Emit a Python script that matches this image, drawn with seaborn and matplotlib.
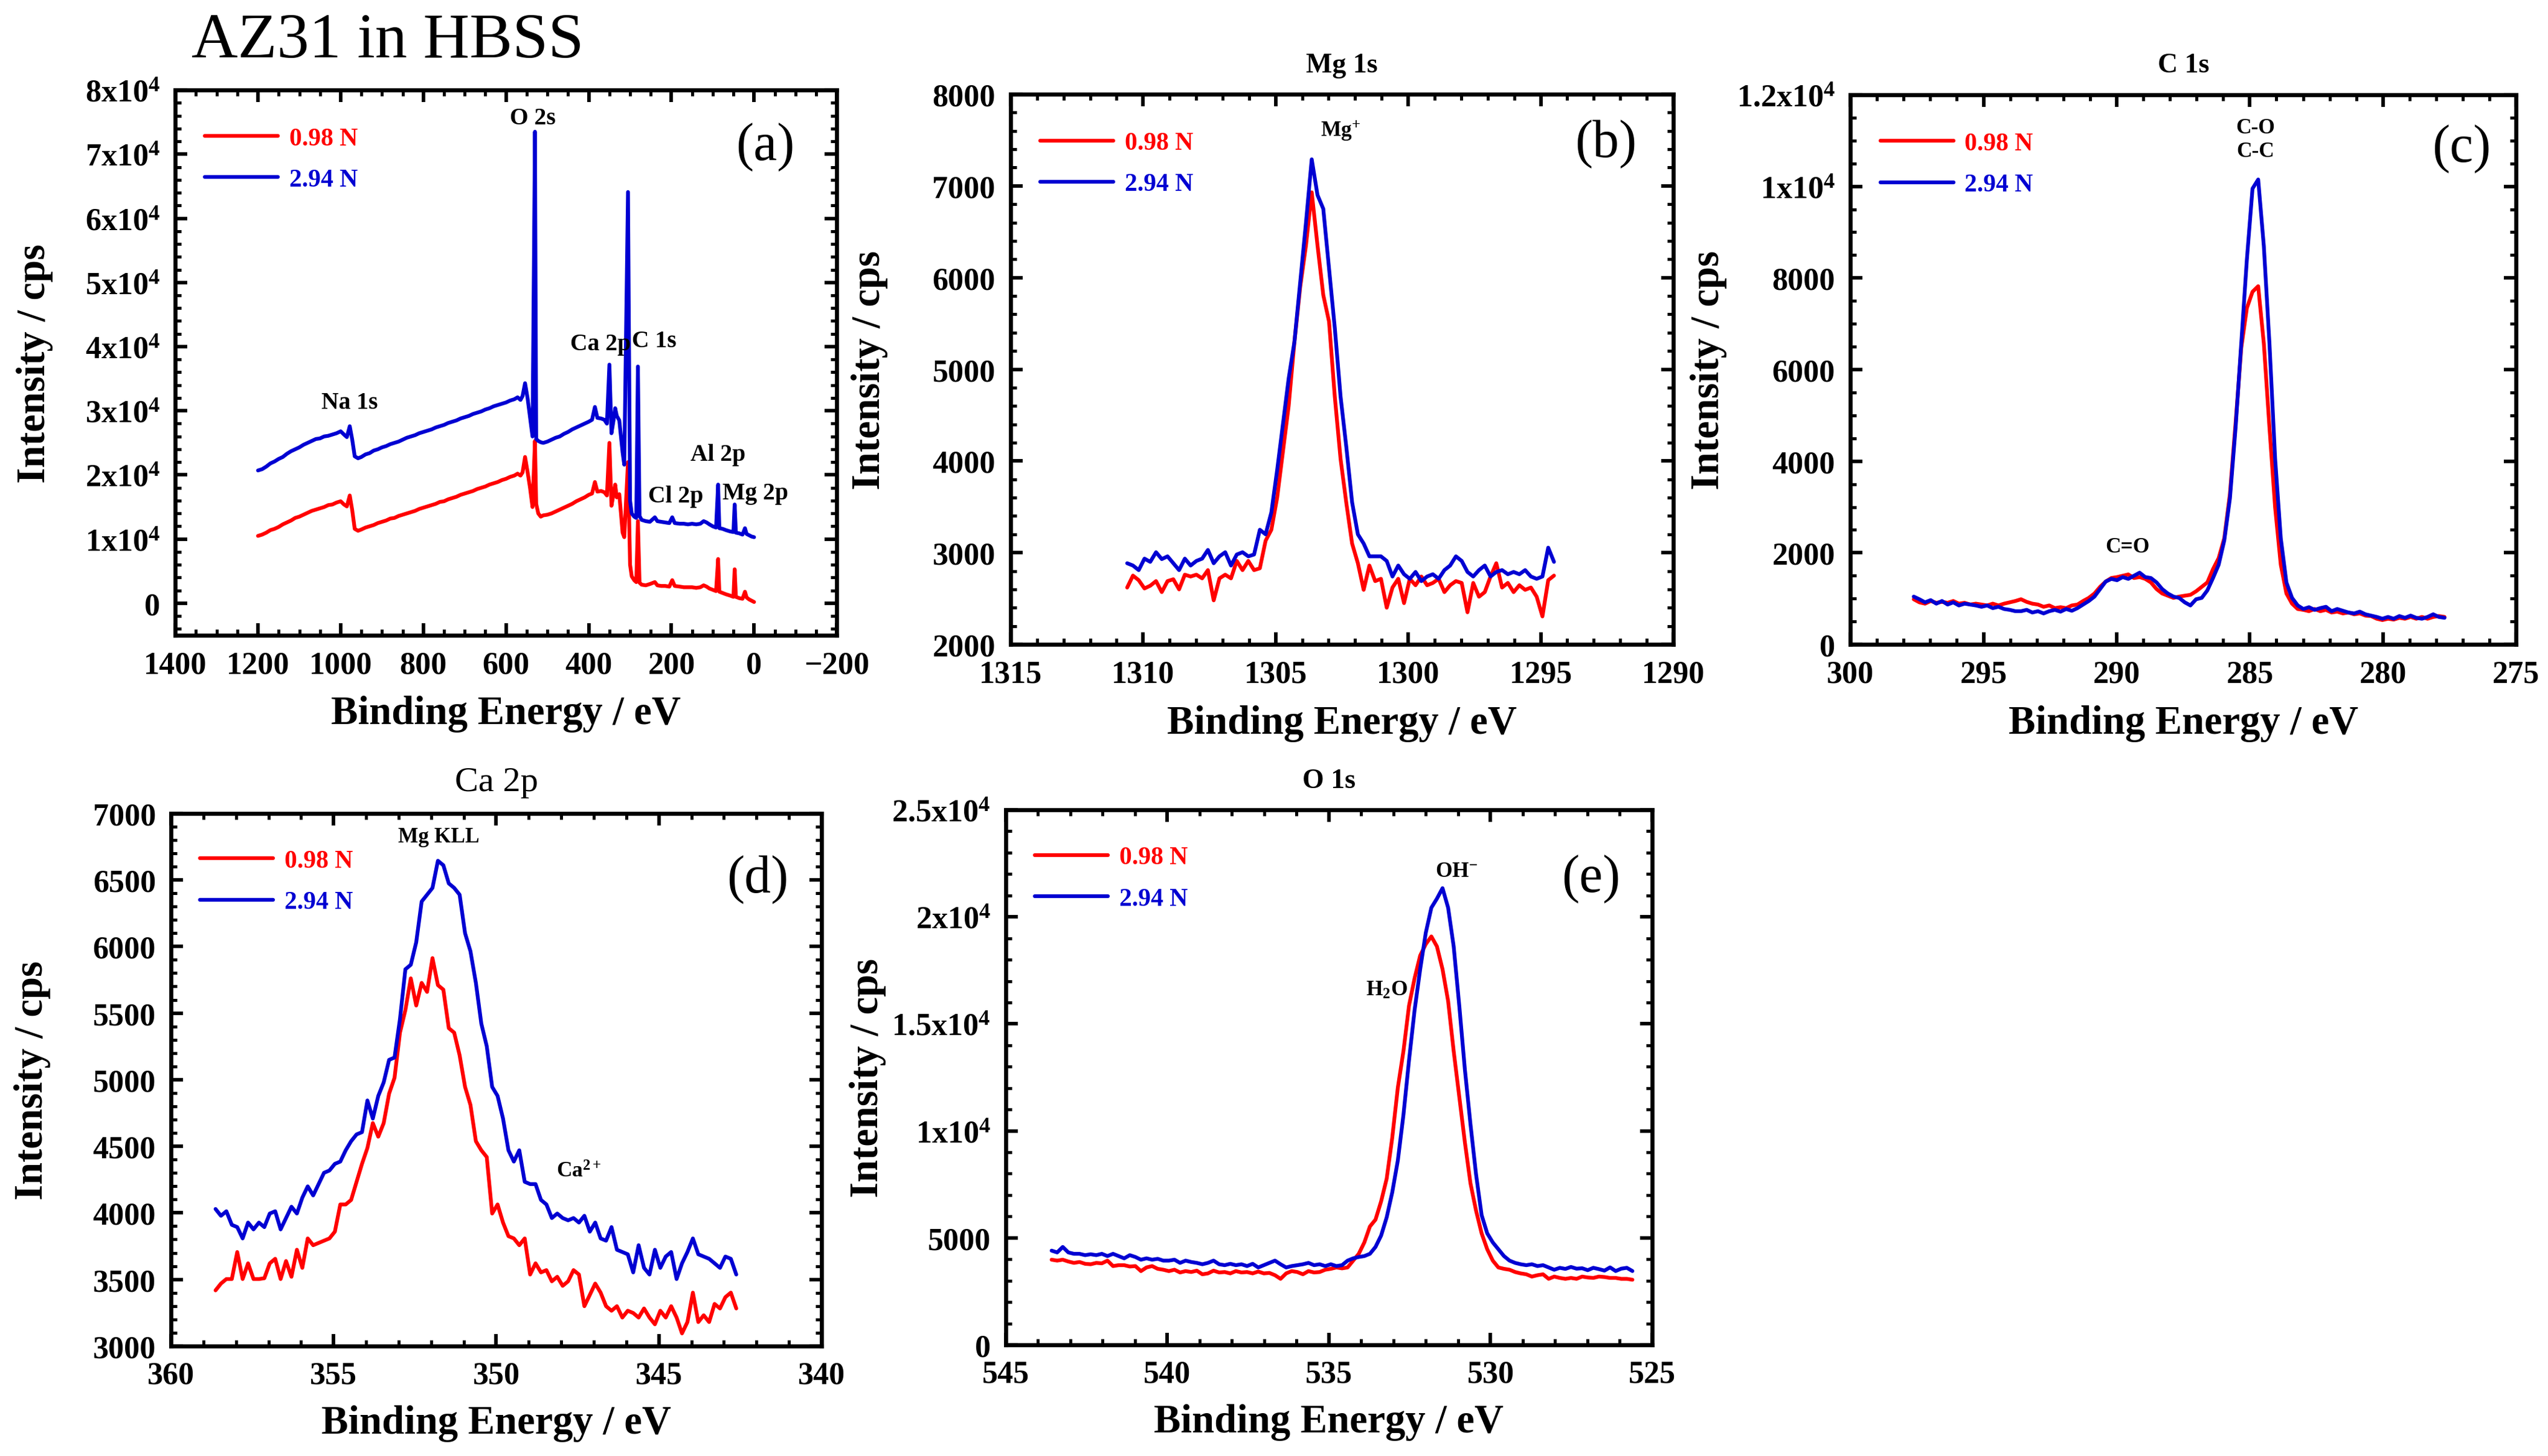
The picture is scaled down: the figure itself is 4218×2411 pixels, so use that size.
import numpy as np
import pandas as pd
import matplotlib
matplotlib.use("Agg")
import matplotlib.pyplot as plt
import seaborn as sns
from matplotlib.ticker import MultipleLocator, AutoMinorLocator, FuncFormatter

# ---------------- data ----------------
series_labels = ["0.98 N", "2.94 N"]

# (a) survey
survey_be = [1200, 1190, 1180, 1170, 1160, 1150, 1140, 1130, 1120, 1110, 1100, 1090, 1080, 1070,
             1060, 1050, 1040, 1030, 1020, 1010, 1000, 992, 985, 978, 972, 966, 958, 950, 940, 930,
             920, 910, 900, 890, 880, 870, 860, 850, 840, 830, 820, 810, 800, 790, 780, 770, 760,
             750, 740, 730, 720, 710, 700, 690, 680, 670, 660, 650, 640, 630, 620, 610, 600, 590,
             580, 572, 565, 560, 554, 548, 542, 536, 530, 527, 522, 516, 510, 500, 490, 480, 470,
             460, 450, 440, 430, 420, 410, 400, 392, 385, 379, 370, 362, 356, 350, 345, 340, 336,
             332, 326, 318, 314, 305, 300, 296, 290, 285, 281, 277, 272, 262, 252, 240, 234, 225,
             215, 205, 198, 192, 180, 170, 160, 150, 140, 130, 122, 115, 108, 100, 92, 87, 84, 76,
             68, 58, 50, 47, 44, 36, 28, 22, 18, 12, 6, 0]
survey_098 = [10500, 10700, 11000, 11400, 11600, 11900, 12300, 12600, 12900, 13300, 13500, 13800,
              14100, 14400, 14600, 14800, 15000, 15300, 15400, 15700, 15900, 15400, 15100, 16800,
              14500, 11600, 11300, 11500, 11800, 12000, 12200, 12500, 12700, 12900, 13200, 13300,
              13600, 13800, 14000, 14200, 14400, 14700, 14900, 15100, 15300, 15500, 15800, 15900,
              16200, 16400, 16600, 16900, 17100, 17300, 17500, 17800, 18000, 18200, 18500, 18700,
              18900, 19200, 19400, 19700, 19900, 20200, 19900, 20400, 22800, 20500, 18000, 15000,
              25300, 15500, 14000, 13500, 13700, 13800, 14000, 14300, 14600, 14900, 15200, 15500,
              15900, 16200, 16500, 16900, 17100, 18900, 17400, 17500, 17300, 16800, 25000, 15200,
              17000, 18500, 16500, 17000, 11000, 10300, 22000, 6000, 4200, 3600, 3300, 12800, 3200,
              2900, 2800, 3000, 3300, 2800, 2700, 2700, 2600, 3600, 2700, 2600, 2500, 2500, 2500,
              2400, 2500, 2800, 2600, 2300, 2100, 1900, 6900, 1800, 1600, 1400, 1200, 1000, 5300,
              1000, 800, 700, 1800, 900, 600, 400, 200]
survey_294 = [20700, 20900, 21300, 21800, 22100, 22500, 22800, 23300, 23700, 24000, 24300, 24700,
              25000, 25300, 25600, 25700, 26000, 26100, 26300, 26500, 26800, 26300, 25900, 27600,
              25500, 22900, 22600, 22800, 23200, 23400, 23800, 24000, 24300, 24500, 24800, 25000,
              25200, 25500, 25800, 26000, 26200, 26500, 26700, 26900, 27100, 27400, 27600, 27800,
              28100, 28300, 28500, 28800, 29000, 29200, 29500, 29700, 29900, 30200, 30400, 30700,
              30900, 31100, 31300, 31600, 31800, 32100, 31700, 32300, 34300, 32000, 29000, 26000,
              73500, 25600, 25300, 25100, 25000, 25200, 25500, 25800, 26000, 26400, 26700, 27100,
              27400, 27700, 28000, 28300, 28600, 30600, 28900, 28800, 28600, 28000, 37200, 26500,
              28500, 30400, 29200, 28500, 23500, 21600, 64100, 16000, 14000, 13500, 13300, 36900,
              13600, 13000, 12800, 12700, 13400, 12800, 12700, 12600, 12500, 13400, 12500, 12400,
              12400, 12300, 12400, 12300, 12400, 12800, 12600, 12300, 12000, 11800, 18500, 11700,
              11600, 11400, 11200, 11100, 15400, 11000, 10900, 10700, 11700, 10800, 10600, 10400,
              10300]

# (b) Mg 1s  (energy axis 1310.6 -> 1294.5 eV, constant step)
mg1s_range = (1310.6, 1294.5)
mg1s_098 = [2620, 2750, 2700, 2610, 2640, 2690, 2570, 2690, 2710, 2600,
            2760, 2740, 2760, 2720, 2810, 2480, 2720, 2760, 2720, 2910,
            2810, 2910, 2810, 2830, 3130, 3250, 3600, 4100, 4600, 5300,
            5900, 6350, 6930, 6350, 5810, 5520, 4700, 4020, 3540, 3100,
            2885, 2595, 2860, 2690, 2715, 2400, 2620, 2715, 2450, 2715,
            2645, 2740, 2645, 2670, 2715, 2570, 2645, 2690, 2670, 2350,
            2670, 2520, 2570, 2740, 2885, 2620, 2670, 2570, 2645, 2595,
            2620, 2520, 2305, 2700, 2750]
mg1s_294 = [2885, 2860, 2810, 2935, 2900, 3005, 2930, 2960, 2885, 2810,
            2935, 2860, 2910, 2935, 3030, 2885, 2960, 3005, 2860, 2980,
            3005, 2960, 2980, 3250, 3200, 3440, 3900, 4400, 4900, 5300,
            5950, 6600, 7290, 6900, 6750, 6100, 5450, 4700, 4150, 3550,
            3200, 3100, 2960, 2960, 2960, 2910, 2740, 2860, 2765, 2715,
            2790, 2690, 2740, 2765, 2715, 2810, 2860, 2960, 2910, 2790,
            2740, 2810, 2860, 2740, 2790, 2810, 2765, 2790, 2765, 2810,
            2740, 2715, 2740, 3055, 2900]

# (c) C 1s  (297.62 -> 277.69 eV)
c1s_range = (297.62, 277.69)
c1s_098 = [985, 918, 889, 947, 908, 928, 908, 947, 889, 908,
           870, 889, 870, 850, 889, 850, 889, 918, 947, 985,
           928, 889, 870, 821, 850, 792, 812, 792, 850, 870,
           947, 1015, 1111, 1256, 1372, 1449, 1469, 1498, 1527, 1449,
           1469, 1430, 1353, 1208, 1111, 1063, 1015, 1043, 1063, 1082,
           1159, 1256, 1353, 1643, 1884, 2319, 3285, 4831, 6474, 7343,
           7700, 7820, 6570, 4734, 2995, 1739, 1111, 889, 773, 754,
           725, 773, 725, 754, 696, 715, 676, 696, 657, 676,
           628, 618, 560, 531, 560, 541, 580, 560, 599, 560,
           599, 560, 599, 618, 599]
c1s_294 = [1043, 985, 918, 966, 889, 947, 870, 918, 850, 889,
           870, 850, 821, 850, 792, 821, 773, 754, 725, 725,
           754, 696, 725, 676, 725, 754, 715, 773, 734, 792,
           870, 947, 1043, 1208, 1372, 1430, 1401, 1469, 1430, 1498,
           1565, 1469, 1449, 1353, 1208, 1111, 1043, 1015, 918, 850,
           985, 1015, 1179, 1449, 1739, 2271, 3188, 4734, 6570, 8406,
           9952, 10150, 8696, 6570, 4058, 2319, 1353, 1015, 850, 773,
           812, 754, 792, 821, 725, 773, 734, 696, 676, 715,
           657, 628, 599, 560, 599, 560, 618, 580, 628, 580,
           560, 599, 657, 599, 580]

# (d) Ca 2p  (358.63 -> 342.62 eV)
ca2p_range = (358.63, 342.62)
ca2p_098 = [3418, 3469, 3503, 3503, 3706, 3503, 3621, 3503, 3503, 3509,
            3621, 3655, 3503, 3638, 3520, 3723, 3587, 3808, 3757, 3774,
            3791, 3808, 3859, 4063, 4063, 4097, 4233, 4368, 4487, 4674,
            4572, 4674, 4895, 5014, 5353, 5523, 5761, 5557, 5727, 5659,
            5913, 5710, 5676, 5387, 5353, 5183, 4946, 4810, 4538, 4470,
            4419, 3995, 4063, 3927, 3825, 3808, 3757, 3808, 3537, 3621,
            3553, 3570, 3486, 3520, 3452, 3486, 3570, 3537, 3299, 3384,
            3469, 3401, 3299, 3265, 3299, 3214, 3265, 3248, 3214, 3282,
            3214, 3163, 3265, 3214, 3299, 3214, 3095, 3180, 3401, 3180,
            3231, 3180, 3316, 3282, 3367, 3401, 3282]
ca2p_294 = [4029, 3978, 4012, 3910, 3893, 3808, 3927, 3876, 3927, 3893,
            3995, 4012, 3876, 3961, 4046, 3995, 4114, 4199, 4131, 4216,
            4301, 4318, 4368, 4385, 4470, 4538, 4589, 4606, 4844, 4708,
            4878, 4980, 5149, 5166, 5455, 5829, 5863, 6032, 6338, 6389,
            6440, 6644, 6610, 6474, 6440, 6389, 6100, 5964, 5727, 5421,
            5251, 4946, 4878, 4708, 4470, 4385, 4470, 4233, 4216, 4216,
            4097, 4063, 3961, 3995, 3961, 3944, 3961, 3927, 3978, 3859,
            3927, 3808, 3791, 3893, 3723, 3706, 3689, 3553, 3757, 3587,
            3537, 3723, 3587, 3672, 3706, 3503, 3621, 3706, 3808, 3689,
            3672, 3655, 3621, 3587, 3672, 3655, 3537]

# (e) O 1s  (543.58 -> 525.61 eV)
o1s_range = (543.58, 525.61)
o1s_098 = [3979, 3936, 3979, 3894, 3830, 3872, 3787, 3766, 3830, 3809,
           3936, 3681, 3723, 3723, 3660, 3681, 3447, 3617, 3681, 3553,
           3511, 3447, 3511, 3383, 3447, 3404, 3468, 3298, 3340, 3468,
           3383, 3404, 3340, 3447, 3383, 3404, 3340, 3426, 3340, 3362,
           3255, 3085, 3340, 3447, 3404, 3298, 3447, 3383, 3404, 3511,
           3553, 3617, 3574, 3617, 3936, 4255, 4787, 5532, 5851, 6702,
           7766, 9681, 12021, 13724, 15851, 17128, 18192, 18724, 19085, 18617,
           17553, 16064, 13724, 11596, 9468, 7553, 6277, 5213, 4468, 3936,
           3617, 3553, 3511, 3404, 3340, 3298, 3191, 3255, 3298, 3085,
           3191, 3128, 3085, 3128, 3085, 3191, 3149, 3128, 3191, 3170,
           3128, 3128, 3085, 3085, 3043]
o1s_294 = [4404, 4319, 4575, 4319, 4255, 4255, 4192, 4234, 4192, 4255,
           4149, 4255, 4149, 4043, 4192, 4106, 3979, 4043, 3979, 4021,
           3936, 3936, 3979, 3830, 3936, 3872, 3830, 3766, 3830, 3936,
           3766, 3723, 3787, 3723, 3766, 3681, 3787, 3617, 3723, 3830,
           3936, 3766, 3617, 3681, 3723, 3766, 3830, 3723, 3766, 3681,
           3766, 3681, 3723, 3936, 4043, 4106, 4149, 4255, 4575, 5106,
           5958, 7128, 8617, 10745, 13298, 15638, 17553, 19255, 20426, 20851,
           21340, 20426, 18617, 15851, 12872, 10319, 7979, 6064, 5213, 4787,
           4468, 4149, 3936, 3830, 3766, 3723, 3766, 3681, 3723, 3617,
           3510, 3600, 3550, 3640, 3560, 3580, 3490, 3600, 3540, 3470,
           3620, 3450, 3560, 3600, 3450]

# ---------------- style ----------------
RED = "#ff0000"
BLUE = "#0000d2"

sns.set_style("ticks")
plt.rcParams.update({
    "font.family": ["Liberation Serif", "DejaVu Serif"],
    "font.weight": "bold",
    "mathtext.fontset": "custom",
    "mathtext.rm": "Liberation Serif:bold",
    "mathtext.it": "Liberation Serif:italic:bold",
    "mathtext.bf": "Liberation Serif:bold",
    "axes.linewidth": 1.6,
    "axes.edgecolor": "black",
    "axes.labelcolor": "black",
    "text.color": "black",
    "xtick.color": "black",
    "ytick.color": "black",
    "xtick.direction": "in",
    "ytick.direction": "in",
    "xtick.top": True,
    "ytick.right": True,
    "xtick.major.size": 4.8,
    "ytick.major.size": 4.8,
    "xtick.minor.size": 2.4,
    "ytick.minor.size": 2.4,
    "xtick.major.width": 1.4,
    "ytick.major.width": 1.4,
    "xtick.minor.width": 1.2,
    "ytick.minor.width": 1.2,
    "xtick.major.pad": 6,
    "ytick.major.pad": 6,
    "xtick.labelsize": 12.5,
    "ytick.labelsize": 12.5,
    "axes.labelsize": 16,
    "axes.labelweight": "bold",
})


def sci_fmt(v, pos):
    if abs(v) < 1:
        return "0"
    if abs(v) >= 1e4:
        return f"{v / 1e4:g}x10$^4$"
    return f"{v:g}"


fig = plt.figure(figsize=(4218 / 300, 2412 / 300), dpi=300)


def panel(rect, be, red, blue, xlim, xmaj, xn, ylim, ymaj, yn, letter, letter_pos,
          title=None, title_kw=None, notes=(), sci=False):
    ax = fig.add_axes(rect)
    df = pd.DataFrame({"be": np.concatenate([be, be]),
                       "cps": np.concatenate([red, blue]),
                       "load": [series_labels[0]] * len(be) + [series_labels[1]] * len(be)})
    sns.lineplot(data=df, x="be", y="cps", hue="load", palette=[RED, BLUE],
                 estimator=None, sort=False, lw=1.5, ax=ax)
    ax.set_xlim(*xlim)
    ax.set_ylim(*ylim)
    ax.xaxis.set_major_locator(MultipleLocator(xmaj))
    ax.xaxis.set_minor_locator(AutoMinorLocator(xn))
    ax.yaxis.set_major_locator(MultipleLocator(ymaj))
    ax.yaxis.set_minor_locator(AutoMinorLocator(yn))
    ax.tick_params(which="both", top=True, right=True, direction="in")
    if sci:
        ax.yaxis.set_major_formatter(FuncFormatter(sci_fmt))
    ax.set_xlabel("Binding Energy / eV")
    ax.set_ylabel("Intensity / cps")
    ax.xaxis.set_label_coords(0.5, -0.11)
    ax.yaxis.set_label_coords(-0.185, 0.5)
    ax.legend(loc="upper left", bbox_to_anchor=(0.045, 0.932), frameon=False,
              borderpad=0, borderaxespad=0, handlelength=2.9, handletextpad=0.45,
              labelspacing=0.72, prop={"size": 10, "weight": "bold"}, labelcolor="linecolor")
    ax.text(letter_pos[0], letter_pos[1], letter, transform=ax.transAxes,
            ha="center", va="center", fontsize=21, fontweight="normal")
    if title:
        ax.set_title(title, **(title_kw or {}))
    for (x, y, s, fs) in notes:
        ax.text(x, y, s, ha="center", va="center", fontsize=fs, fontweight="bold",
                linespacing=1.25)
    return ax


# (a) survey
panel([0.0688, 0.5634, 0.2596, 0.3744], survey_be, survey_098, survey_294,
      (1400, -200), 200, 4, (-5000, 80000), 10000, 5, "(a)", (0.892, 0.897),
      notes=[(978, 31300, "Na 1s", 9.5), (535, 75600, "O 2s", 9.5),
             (371, 40400, "Ca 2p", 9.5), (242, 40900, "C 1s", 9.5),
             (87, 23200, "Al 2p", 9.5), (189, 16700, "Cl 2p", 9.5),
             (-3, 17200, "Mg 2p", 9.5)],
      sci=True)

# (b) Mg 1s
mg1s_be = np.linspace(mg1s_range[0], mg1s_range[1], len(mg1s_098))
panel([0.3966, 0.5572, 0.2601, 0.3777], mg1s_be, mg1s_098, mg1s_294,
      (1315, 1290), 5, 5, (2000, 8000), 1000, 5, "(b)", (0.898, 0.91),
      title="Mg 1s", title_kw=dict(fontsize=11, fontweight="bold", pad=9),
      notes=[(1302.55, 7604, "Mg$^{+}$", 8.5)])

# (c) C 1s
c1s_be = np.linspace(c1s_range[0], c1s_range[1], len(c1s_098))
panel([0.7262, 0.5572, 0.2613, 0.3773], c1s_be, c1s_098, c1s_294,
      (300, 275), 5, 5, (0, 12000), 2000, 4, "(c)", (0.918, 0.903),
      title="C 1s", title_kw=dict(fontsize=11, fontweight="bold", pad=9),
      notes=[(284.8, 11020, "C-O\nC-C", 8.5), (289.6, 2125, "C=O", 8.5)],
      sci=True)

# (d) Ca 2p
ca2p_be = np.linspace(ca2p_range[0], ca2p_range[1], len(ca2p_098))
panel([0.0671, 0.0755, 0.2553, 0.3657], ca2p_be, ca2p_098, ca2p_294,
      (360, 340), 5, 5, (3000, 7000), 500, 5, "(d)", (0.902, 0.877),
      title="Ca 2p", title_kw=dict(fontsize=14, fontweight="normal", pad=9),
      notes=[(351.76, 6823, "Mg KLL", 8.5), (347.46, 4307, "Ca$^{2+}$", 8.5)])

# (e) O 1s
o1s_be = np.linspace(o1s_range[0], o1s_range[1], len(o1s_098))
panel([0.3947, 0.0763, 0.2537, 0.3673], o1s_be, o1s_098, o1s_294,
      (545, 525), 5, 5, (0, 25000), 5000, 5, "(e)", (0.905, 0.872),
      title="O 1s", title_kw=dict(fontsize=11, fontweight="bold", pad=9),
      notes=[(531.05, 22128, "OH$^{-}$", 8.5), (533.21, 16596, "H$_2$O", 8.5)],
      sci=True)

fig.text(0.0752, 0.971, "AZ31 in HBSS", fontsize=25.5, fontweight="normal",
         ha="left", va="center")

fig.savefig("out.png", dpi=300)
